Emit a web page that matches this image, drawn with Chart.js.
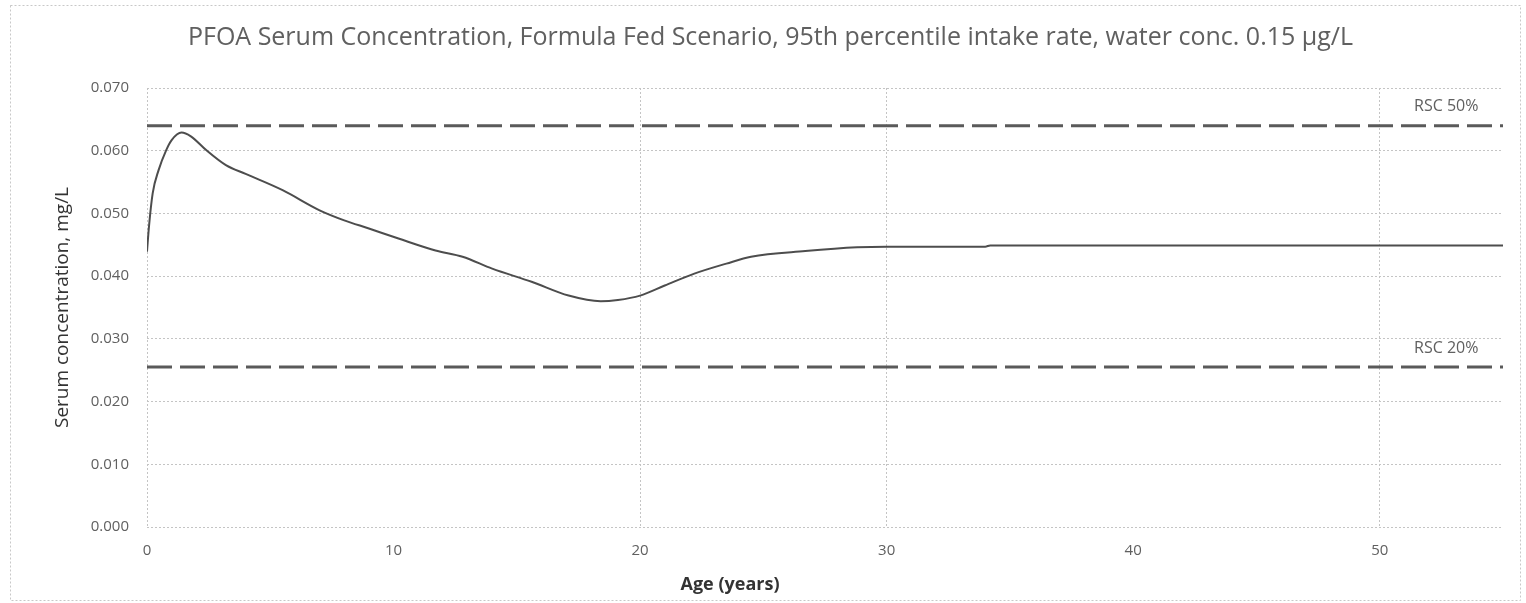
<!DOCTYPE html>
<html>
<head>
<meta charset="utf-8">
<script src="https://cdn.jsdelivr.net/npm/chart.js@4/dist/chart.umd.min.js"></script>
<style>
  html, body { margin: 0; padding: 0; background: #fff; }
  #wrap { position: relative; width: 1526px; height: 603px; }
</style>
</head>
<body>
<div id="wrap"><canvas id="chart" width="1526" height="603"></canvas></div>
<script>
(function () {
	'use strict';

	// age in years and modelled serum concentration (mg/L)
	var ages = [0, 0.08, 0.23, 0.47, 0.78, 1.0, 1.4, 1.78, 2.4, 3.2, 4.0, 5.5, 7.0, 8.0, 9.0, 10.2,
		11.7, 12.8, 14.0, 15.6, 17.1, 18.4, 19.1, 20.0, 21.0, 22.2, 23.5, 24.5, 26.7, 28.8, 30, 32,
		34, 34.2, 40, 45, 50, 55];
	var serum = [0.0439, 0.0479, 0.0532, 0.0569, 0.0601, 0.0617, 0.0629, 0.0623, 0.0601, 0.0577,
		0.0563, 0.0537, 0.0505, 0.0489, 0.0476, 0.0460, 0.0441, 0.0431, 0.0412, 0.0391, 0.0369,
		0.0360, 0.0362, 0.0369, 0.0385, 0.0404, 0.0420, 0.0431, 0.0440, 0.0446, 0.0447, 0.0447,
		0.0447, 0.0449, 0.0449, 0.0449, 0.0449, 0.0449];

	// reference lines (relative source contribution)
	var rscLabels = ['RSC 50%', 'RSC 20%'];
	var rscValues = [0.0640, 0.0255];
	var rscAges = [0, 55];

	var xTicks = [0, 10, 20, 30, 40, 50];
	var yTicks = [0, 0.01, 0.02, 0.03, 0.04, 0.05, 0.06, 0.07];
	var hiddenXGrid = [10, 40];

	var titleText = 'PFOA Serum Concentration, Formula Fed Scenario, 95th percentile intake rate, water conc. 0.15 \u00b5g/L';
	var xTitle = 'Age (years)';
	var yTitle = 'Serum concentration, mg/L';

	var grey = '#606060',
		gridGrey = '#c4c4c4';

	var curve = ages.map(function (a, i) { return { x: a, y: serum[i] }; });
	var rscSets = rscValues.map(function (v, i) {
		return {
			label: rscLabels[i],
			data: rscAges.map(function (a) { return { x: a, y: v }; }),
			borderColor: '#5a5a5a',
			borderWidth: 3,
			borderDash: [25, 8],
			pointRadius: 0,
			fill: false
		};
	});

	// frame, RSC labels and the x-axis caption
	var extras = {
		id: 'extras',
		afterDraw: function (chart) {
			var ctx = chart.ctx,
				xs = chart.scales.x,
				ys = chart.scales.y;
			ctx.save();
			ctx.strokeStyle = '#c8c8c8';
			ctx.lineWidth = 1;
			ctx.setLineDash([2, 2]);
			ctx.strokeRect(10.5, 5.5, chart.width - 16, chart.height - 8);
			ctx.setLineDash([]);

			ctx.fillStyle = grey;
			ctx.font = '16px "Open Sans", sans-serif';
			ctx.textAlign = 'center';
			ctx.textBaseline = 'middle';
			rscLabels.forEach(function (lbl, i) {
				ctx.fillText(lbl, xs.getPixelForValue(52.7), ys.getPixelForValue(rscValues[i]) - 19);
			});

			ctx.fillStyle = '#333';
			ctx.font = 'bold 18px "Open Sans", sans-serif';
			ctx.fillText(xTitle, 730, 585);
			ctx.restore();
		}
	};

	new Chart(document.getElementById('chart'), {
		type: 'line',
		data: {
			datasets: [{
				label: 'Serum',
				data: curve,
				borderColor: '#4d4d4d',
				borderWidth: 2,
				pointRadius: 0,
				cubicInterpolationMode: 'monotone',
				fill: false
			}].concat(rscSets)
		},
		options: {
			responsive: false,
			animation: false,
			layout: { padding: { left: 38, right: 23, top: 0, bottom: 0 } },
			plugins: {
				legend: { display: false },
				tooltip: { enabled: false },
				title: {
					display: true,
					text: titleText,
					color: grey,
					font: { family: '"Open Sans", sans-serif', size: 25, weight: 'normal' },
					padding: { top: 23, bottom: 35 }
				}
			},
			scales: {
				x: {
					type: 'linear',
					min: 0,
					max: 55,
					afterFit: function (s) { s.height = 76; },
					afterBuildTicks: function (s) {
						s.ticks = xTicks.map(function (v) { return { value: v }; });
					},
					ticks: {
						color: grey,
						padding: 15,
						font: { family: '"Open Sans", sans-serif', size: 15 }
					},
					grid: {
						drawTicks: false,
						color: function (c) {
							return hiddenXGrid.indexOf(c.tick && c.tick.value) >= 0 ? 'rgba(0,0,0,0)' : gridGrey;
						}
					},
					border: { display: false, dash: [2, 2] }
				},
				y: {
					min: 0,
					max: 0.07,
					afterFit: function (s) { s.width = 109; },
					afterBuildTicks: function (s) {
						s.ticks = yTicks.map(function (v) { return { value: v }; });
					},
					ticks: {
						color: grey,
						padding: 18,
						font: { family: '"Open Sans", sans-serif', size: 15 },
						callback: function (v) { return Number(v).toFixed(3); }
					},
					grid: { drawTicks: false, color: gridGrey },
					border: { display: false, dash: [2, 2] },
					title: {
						display: true,
						text: yTitle,
						color: '#333',
						font: { family: '"Open Sans", sans-serif', size: 19 },
						padding: { top: 13, bottom: 0 }
					}
				}
			}
		},
		plugins: [extras]
	});
})();
</script>
</body>
</html>
